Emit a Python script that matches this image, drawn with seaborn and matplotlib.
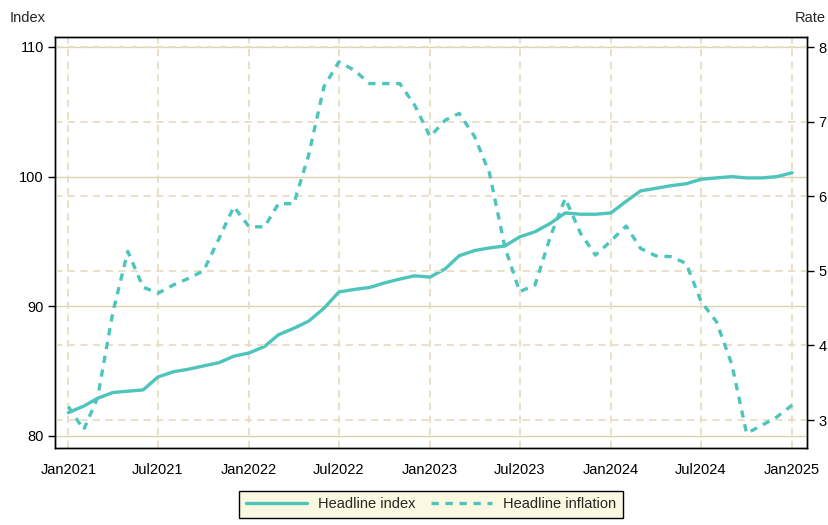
import pandas as pd
import numpy as np
import matplotlib
matplotlib.use('Agg')
import matplotlib.pyplot as plt
import seaborn as sns

# monthly data Jan2021 .. Jan2025
months = pd.date_range('2021-01-01', periods=49, freq='MS')

headline_index = [81.8, 82.3, 82.9, 83.35, 83.45, 83.55, 84.55, 84.95, 85.15, 85.4, 85.65, 86.15,
                  86.4, 86.9, 87.8, 88.3, 88.85, 89.85, 91.1, 91.3, 91.45, 91.8, 92.1, 92.35,
                  92.25, 92.9, 93.9, 94.3, 94.5, 94.65, 95.35, 95.75, 96.4, 97.2, 97.1, 97.1,
                  97.2, 98.1, 98.9, 99.1, 99.3, 99.45, 99.8, 99.9, 100.0, 99.9, 99.9, 100.0,
                  100.3]

headline_inflation = [3.18, 2.87, 3.3, 4.45, 5.26, 4.78, 4.70, 4.81, 4.90, 5.0, 5.43, 5.86,
                      5.59, 5.59, 5.90, 5.90, 6.55, 7.47, 7.80, 7.69, 7.51, 7.51, 7.51, 7.22,
                      6.80, 7.02, 7.11, 6.80, 6.31, 5.32, 4.72, 4.81, 5.46, 5.97, 5.50, 5.21,
                      5.40, 5.60, 5.30, 5.20, 5.19, 5.10, 4.59, 4.32, 3.75, 2.82, 2.93, 3.04,
                      3.20]

left_ticks = [80, 90, 100, 110]
right_ticks = [3, 4, 5, 6, 7, 8]
x_ticks = pd.date_range('2021-01-01', '2025-01-01', freq='6MS')
x_labels = [d.strftime('%b%Y') for d in x_ticks]

df = pd.DataFrame({'Month': months, 'Index': headline_index, 'Rate': headline_inflation})

sns.set_style('white')
plt.rcParams['font.family'] = ['Liberation Sans', 'DejaVu Sans']
plt.rcParams['font.size'] = 10.5

teal = '#4dc4bc'
grid_solid = '#ddd2ad'
grid_dash = '#e6ddc2'

fig = plt.figure(figsize=(8.29, 5.25), dpi=100)
ax = fig.add_axes([0.0663, 0.1467, 0.9072, 0.7828])
ax2 = ax.twinx()

sns.lineplot(data=df, x='Month', y='Index', ax=ax, color=teal, linewidth=2.4, label='Headline index', legend=False)
sns.lineplot(data=df, x='Month', y='Rate', ax=ax2, color=teal, linewidth=2.4, label='Headline inflation', legend=False)
ax2.lines[0].set_dashes([2.2, 2.0])

ax.set_ylim(79.07, 110.77)
ax2.set_ylim(2.625, 8.134)
ax.set_xlim(pd.Timestamp('2020-12-05'), pd.Timestamp('2025-01-31'))

# grid lines
for v in left_ticks:
    ax.axhline(v, color=grid_solid, lw=1.0, zorder=0)
for v in right_ticks:
    ax2.axhline(v, color=grid_dash, lw=1.3, ls=(0, (4, 3)), zorder=0)
for d in x_ticks:
    ax.axvline(d, color=grid_dash, lw=1.3, ls=(0, (4, 3)), zorder=0)

ax.set_yticks(left_ticks)
ax2.set_yticks(right_ticks)
ax.set_xticks(x_ticks)
ax.set_xticklabels(x_labels)

for a in (ax, ax2):
    a.tick_params(direction='out', length=5, width=1, colors='black', labelsize=10.5, pad=3)
    for s in a.spines.values():
        s.set_color('black')
        s.set_linewidth(1.0)
ax.tick_params(axis='x', length=6, pad=5)

ax.set_xlabel('')
ax.set_ylabel('')
ax2.set_ylabel('')
ax2.set_zorder(ax.get_zorder() + 1)
ax2.patch.set_visible(False)

fig.text(0.012, 0.966, 'Index', fontsize=10.5, ha='left', va='center')
fig.text(0.996, 0.966, 'Rate', fontsize=10.5, ha='right', va='center')

h1 = ax.lines[0]
h2 = ax2.lines[0]
leg = fig.legend([h1, h2], ['Headline index', 'Headline inflation'], loc='lower center',
                 bbox_to_anchor=(0.52, 0.0), ncol=2, frameon=True, fancybox=False,
                 edgecolor='black', facecolor='#fbf8e2', framealpha=1, fontsize=10.5,
                 handlelength=4.2, columnspacing=1.0, borderpad=0.45, handletextpad=0.8)
leg.get_frame().set_linewidth(1.0)

fig.savefig('out.png', dpi=100)
